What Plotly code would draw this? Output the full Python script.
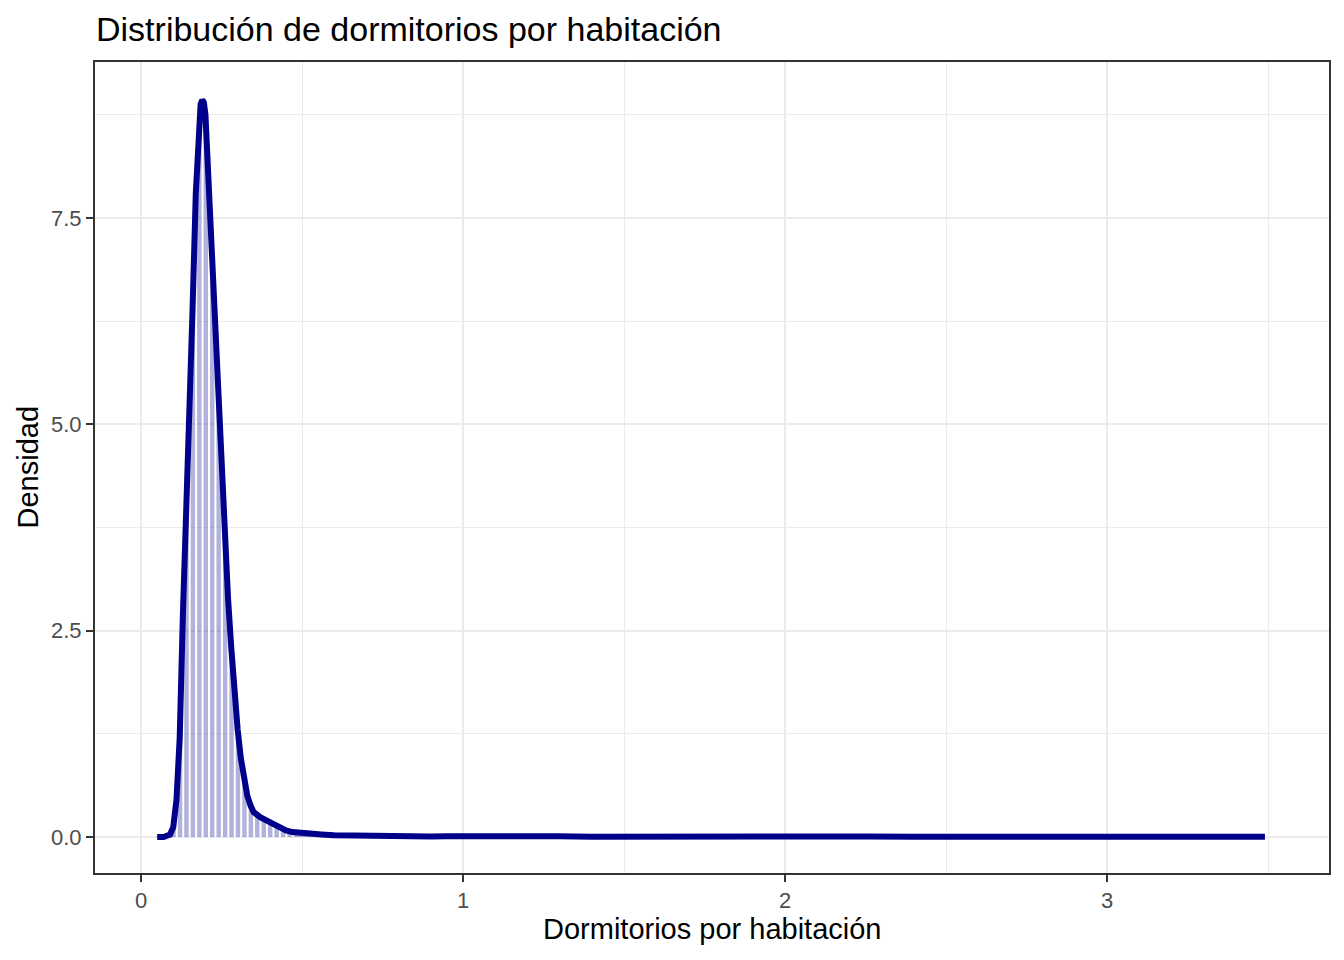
import plotly.graph_objects as go

# Density curve (x, density)
dens_x = [0.05, 0.07, 0.09, 0.10, 0.11, 0.12, 0.13, 0.14, 0.15, 0.16, 0.17, 0.18,
          0.185, 0.19, 0.195, 0.20, 0.21, 0.22, 0.23, 0.24, 0.25, 0.26, 0.27, 0.28, 0.29, 0.30,
          0.31, 0.32, 0.33, 0.34, 0.35, 0.37, 0.39, 0.41, 0.43, 0.45, 0.47, 0.50,
          0.53, 0.56, 0.60, 0.65, 0.70, 0.75, 0.80, 0.85, 0.90, 0.95, 1.00, 1.05,
          1.10, 1.20, 1.30, 1.40, 1.50, 1.60, 1.80, 2.00, 2.26, 2.40, 2.60, 3.00,
          3.49]
dens_y = [0.0, 0.0, 0.03, 0.12, 0.45, 1.2, 2.7, 3.8, 5.05, 6.4, 7.8, 8.7,
          8.88, 8.93, 8.9, 8.75, 7.9, 6.9, 6.2, 5.3, 4.4, 3.6, 2.9, 2.3, 1.75, 1.3,
          0.95, 0.7, 0.5, 0.38, 0.3, 0.24, 0.2, 0.14, 0.1, 0.08, 0.06, 0.045,
          0.04, 0.03, 0.02, 0.015, 0.012, 0.012, 0.008, 0.01, 0.006, 0.01, 0.012, 0.008,
          0.01, 0.006, 0.008, 0.004, 0.006, 0.004, 0.003, 0.003, 0.006, 0.002, 0.002, 0.002,
          0.003]

# Positions/heights of the white separators seen inside the filled area
sep_x = [0.111, 0.131, 0.151, 0.171, 0.191, 0.211, 0.231, 0.251, 0.271, 0.291,
         0.311, 0.331, 0.351, 0.371, 0.391, 0.411, 0.431, 0.451, 0.471]
sep_y = [0.5, 2.8, 5.2, 7.85, 8.93, 7.8, 6.1, 4.3, 2.85, 1.7,
         0.93, 0.49, 0.3, 0.24, 0.2, 0.14, 0.1, 0.08, 0.06]

x_ticks = [0, 1, 2, 3]
y_ticks = [0, 2.5, 5, 7.5]
y_tick_labels = ["0.0", "2.5", "5.0", "7.5"]

seg_x, seg_y = [], []
for sx, sy in zip(sep_x, sep_y):
    seg_x += [sx, sx, None]
    seg_y += [0, sy, None]

fig = go.Figure()
fig.add_trace(go.Scatter(x=dens_x, y=dens_y, mode="lines", fill="tozeroy",
                         fillcolor="rgba(0,0,139,0.3)", line=dict(width=0),
                         hoverinfo="skip", showlegend=False))
fig.add_trace(go.Scatter(x=seg_x, y=seg_y, mode="lines",
                         line=dict(color="white", width=2),
                         hoverinfo="skip", showlegend=False))
fig.add_trace(go.Scatter(x=dens_x, y=dens_y, mode="lines",
                         line=dict(color="#00008B", width=6),
                         showlegend=False))

font = "Liberation Sans, Arial, sans-serif"
axis_common = dict(
    showline=True, linecolor="#333333", linewidth=2, mirror=True,
    ticks="outside", ticklen=7, tickwidth=2, tickcolor="#333333",
    tickfont=dict(family=font, size=22, color="#4D4D4D"),
    showgrid=True, gridcolor="#EBEBEB", gridwidth=2, zeroline=False,
)

fig.update_layout(
    width=1344, height=960,
    paper_bgcolor="white", plot_bgcolor="white",
    margin=dict(l=95, r=15, t=62, b=87),
    title=dict(text="Distribución de dormitorios por habitación",
               font=dict(family=font, size=34, color="black"),
               xref="container", x=96 / 1344, xanchor="left",
               yref="container", y=1 - 29 / 960, yanchor="middle"),
    xaxis=dict(range=[-0.143, 3.689], tickvals=x_ticks,
               ticktext=[str(v) for v in x_ticks],
               minor=dict(dtick=0.5, tick0=0, showgrid=True, gridcolor="#EBEBEB",
                          gridwidth=1, ticks=""),
               **axis_common),
    yaxis=dict(range=[-0.436, 9.39], tickvals=y_ticks, ticktext=y_tick_labels,
               minor=dict(dtick=1.25, tick0=0, showgrid=True, gridcolor="#EBEBEB",
                          gridwidth=1, ticks=""),
               **axis_common),
    annotations=[
        dict(text="Dormitorios por habitación", xref="paper", yref="paper",
             x=0.5, y=(873 - 929) / 811, xanchor="center", yanchor="middle",
             showarrow=False, font=dict(family=font, size=29, color="black")),
        dict(text="Densidad", xref="paper", yref="paper",
             x=(27 - 95) / 1234, y=0.5, xanchor="center", yanchor="middle",
             textangle=-90, showarrow=False,
             font=dict(family=font, size=29, color="black")),
    ],
)

fig.write_html("out.html",
               config={"displayModeBar": False},
               post_script="document.body.style.margin='0';document.body.style.padding='0';")
